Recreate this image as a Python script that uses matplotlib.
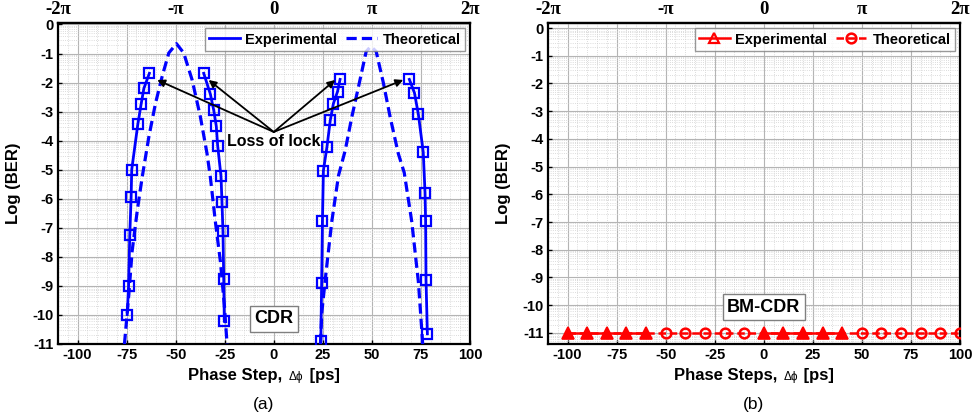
import numpy as np
import matplotlib
matplotlib.use("Agg")
import matplotlib.pyplot as plt
from matplotlib.ticker import FixedLocator, MultipleLocator
from matplotlib.offsetbox import TextArea, HPacker, AnnotationBbox

plt.rcParams['font.family'] = ['Liberation Sans', 'DejaVu Sans']
plt.rcParams['font.weight'] = 'bold'
plt.rcParams['axes.unicode_minus'] = False

# ---------------- (a) conventional CDR ----------------
# measured branches (phase step in ps, log10 BER)
exp_a1_x = [-63.4, -66.2, -67.6, -69.3, -72.4, -72.7, -73.4, -74.0, -74.7]
exp_a1_y = [-1.68, -2.20, -2.74, -3.44, -5.00, -5.94, -7.26, -9.00, -9.99]
exp_a2_x = [-35.7, -32.3, -30.6, -29.3, -28.6, -26.9, -26.4, -25.9, -25.5, -25.2]
exp_a2_y = [-1.68, -2.40, -2.95, -3.50, -4.17, -5.22, -6.10, -7.12, -8.77, -10.22]
exp_a3_x = [33.8, 32.5, 30.4, 28.8, 27.1, 25.3, 24.8, 24.4, 24.0]
exp_a3_y = [-1.89, -2.31, -2.72, -3.30, -4.22, -5.03, -6.77, -8.91, -10.88]
exp_a4_x = [69.1, 71.7, 73.7, 76.2, 77.1, 77.4, 77.6, 78.3]
exp_a4_y = [-1.89, -2.35, -3.09, -4.40, -5.79, -6.77, -8.80, -10.65]

# theoretical curves
th_a1_x = [-76.1, -73.9, -72.2, -69.6, -67.1, -63.7, -60.3, -56.9, -53.5, -49.6,
           -45.9, -41.6, -37.4, -34.0, -32.3, -29.8, -27.2, -25.2, -23.8]
th_a1_y = [-11.0, -9.32, -7.81, -6.42, -5.27, -3.88, -2.72, -1.79, -0.98, -0.66,
           -0.98, -1.91, -3.18, -4.45, -5.27, -6.77, -8.16, -9.66, -11.0]
th_a2_x = [23.8, 24.5, 26.7, 29.6, 33.0, 36.4, 39.8, 43.2, 47.1, 49.5,
           52.2, 55.9, 59.3, 63.5, 66.5, 70.3, 73.7, 75.4, 75.9]
th_a2_y = [-11.0, -9.9, -8.5, -6.77, -5.2, -4.34, -3.18, -2.14, -0.93, -0.75,
           -0.93, -2.02, -3.18, -4.45, -5.1, -6.77, -8.85, -10.48, -11.0]

# loss-of-lock points the arrows point at
lol_x = [-59.4, -33.2, 31.3, 66.0]
lol_y = [-1.91, -1.91, -1.91, -1.91]

# ---------------- (b) burst-mode CDR ----------------
exp_b_x = [-100, -90, -80, -70, -60, 0, 10, 20, 30, 40]
exp_b_y = [-11, -11, -11, -11, -11, -11, -11, -11, -11, -11]
th_b_x = [-100, -90, -80, -70, -60, -50, -40, -30, -20, -10, 0,
          10, 20, 30, 40, 50, 60, 70, 80, 90, 100]
th_b_y = [-11] * 21
th_b_marked = [5, 6, 7, 8, 9, 15, 16, 17, 18, 19, 20]

x_ticks = [-100, -75, -50, -25, 0, 25, 50, 75, 100]
y_ticks = [0, -1, -2, -3, -4, -5, -6, -7, -8, -9, -10, -11]
top_ticks = [-110, -50, 0, 50, 100]
top_labels = ['-2\u03c0', '-\u03c0', '0', '\u03c0', '2\u03c0']

BLUE = '#0000ff'
RED = '#ff0000'

fig = plt.figure(figsize=(9.74, 4.19), dpi=100)
ax_a = fig.add_axes([0.0595, 0.179, 0.423, 0.766])
ax_b = fig.add_axes([0.5626, 0.179, 0.423, 0.766])


def style_axes(ax, ylim, xlabel_main):
    ax.set_xlim(-110, 100)
    ax.set_ylim(*ylim)
    ax.set_xticks(x_ticks)
    ax.set_yticks(y_ticks)
    ax.set_yticklabels([str(v) for v in y_ticks])
    ax.set_xticklabels([str(v) for v in x_ticks])
    ax.xaxis.set_minor_locator(MultipleLocator(5))
    minors = []
    for d in range(-12, 1):
        for k in range(2, 10):
            minors.append(d + np.log10(k))
    ax.yaxis.set_minor_locator(FixedLocator(minors))
    ax.grid(which='major', color='#b4b4b4', lw=0.8, ls='-')
    ax.grid(which='minor', color='#d0d0d0', lw=0.6, ls=':')
    ax.set_axisbelow(True)
    ax.tick_params(which='both', direction='in', labelsize=10.5, pad=3)
    ax.tick_params(which='major', length=3, width=1)
    ax.tick_params(which='minor', length=0)
    for lbl in ax.get_xticklabels() + ax.get_yticklabels():
        lbl.set_fontweight('bold')
    for sp in ax.spines.values():
        sp.set_linewidth(1.6)
    ax.set_ylabel('Log (BER)', fontsize=12, fontweight='bold', labelpad=8)

    top = ax.secondary_xaxis('top')
    top.set_xticks(top_ticks)
    top.set_xticklabels(top_labels, family=['Liberation Serif', 'DejaVu Serif'],
                        fontsize=13.5, fontweight='bold')
    top.tick_params(length=0, pad=3.5)
    top.spines['top'].set_linewidth(1.6)

    parts = [TextArea(xlabel_main, textprops=dict(fontsize=12, fontweight='bold')),
             TextArea('\u0394\u03d5', textprops=dict(fontsize=8.5, fontweight='normal')),
             TextArea(' [ps]', textprops=dict(fontsize=12, fontweight='bold'))]
    box = HPacker(children=parts, align='baseline', pad=0, sep=1)
    ab = AnnotationBbox(box, (0.5, -0.097), xycoords='axes fraction',
                        frameon=False, box_alignment=(0.5, 0.5))
    ax.add_artist(ab)


style_axes(ax_a, (-11, 0.05), 'Phase Step, ')
style_axes(ax_b, (-11.4, 0.18), 'Phase Steps, ')

# ---- panel (a) ----
for xs, ys in [(th_a1_x, th_a1_y), (th_a2_x, th_a2_y)]:
    ax_a.plot(xs, ys, color=BLUE, lw=2.3, ls=(0, (3.2, 1.6)), zorder=3)
for xs, ys in [(exp_a1_x, exp_a1_y), (exp_a2_x, exp_a2_y),
               (exp_a3_x, exp_a3_y), (exp_a4_x, exp_a4_y)]:
    ax_a.plot(xs, ys, color=BLUE, lw=2.0, marker='s', ms=6.5, mfc='none',
              mec=BLUE, mew=1.6, zorder=4)

ax_a.plot([], [], color=BLUE, lw=2.0, label='Experimental')
ax_a.plot([], [], color=BLUE, lw=2.3, ls=(0, (3.2, 1.6)), label='Theoretical')
leg = ax_a.legend(loc='upper right', ncol=2, frameon=True,
                  fancybox=False, edgecolor='#808080', handlelength=2.1,
                  handletextpad=0.4, columnspacing=0.6, borderpad=0.3,
                  borderaxespad=0.35, prop=dict(weight='bold', size=10.5))
leg.get_frame().set_linewidth(1.0)
leg.set_zorder(10)

for lx, ly in zip(lol_x, lol_y):
    ax_a.annotate('', xy=(lx, ly), xytext=(0, -3.7),
                  arrowprops=dict(arrowstyle='-|>', color='black', lw=1.3,
                                  mutation_scale=11, shrinkA=0, shrinkB=0),
                  zorder=6)
ax_a.text(0, -4.02, 'Loss of lock', ha='center', va='center', fontsize=11.5,
          fontweight='bold', zorder=7,
          bbox=dict(facecolor='white', edgecolor='none', pad=0.5))
ax_a.text(0, -10.13, 'CDR', ha='center', va='center', fontsize=13,
          fontweight='bold', zorder=7,
          bbox=dict(facecolor='white', edgecolor='#808080', lw=1.0,
                    boxstyle='square,pad=0.25'))

# ---- panel (b) ----
ax_b.plot(th_b_x, th_b_y, color=RED, lw=1.8, ls=(0, (3, 1.5)), marker='o',
          ms=7, mfc='none', mec=RED, mew=1.8, markevery=th_b_marked, zorder=3)
for seg in (slice(0, 5), slice(5, 10)):
    ax_b.plot(exp_b_x[seg], exp_b_y[seg], color=RED, lw=1.8, marker='^', ms=8,
              mfc=RED, mec=RED, mew=1.2, zorder=4)

ax_b.plot([], [], color=RED, lw=1.8, marker='^', ms=7, mfc='none', mec=RED,
          mew=1.6, label='Experimental')
ax_b.plot([], [], color=RED, lw=1.8, ls=(0, (3, 1.5)), marker='o', ms=7,
          mfc='none', mec=RED, mew=1.8, label='Theoretical')
leg_b = ax_b.legend(loc='upper right', ncol=2, frameon=True, fancybox=False,
                    edgecolor='#808080', handlelength=2.1, handletextpad=0.4,
                    columnspacing=0.6, borderpad=0.3, borderaxespad=0.35,
                    prop=dict(weight='bold', size=10.5))
leg_b.get_frame().set_linewidth(1.0)
leg_b.set_zorder(10)

ax_b.text(0, -10.07, 'BM-CDR', ha='center', va='center', fontsize=13,
          fontweight='bold', zorder=7,
          bbox=dict(facecolor='white', edgecolor='#808080', lw=1.0,
                    boxstyle='square,pad=0.25'))

fig.text(264 / 974, 1 - 404 / 419, '(a)', ha='center', va='center',
         fontsize=12.5, fontweight='normal')
fig.text(754 / 974, 1 - 404 / 419, '(b)', ha='center', va='center',
         fontsize=12.5, fontweight='normal')

fig.savefig('out.png', dpi=100)
